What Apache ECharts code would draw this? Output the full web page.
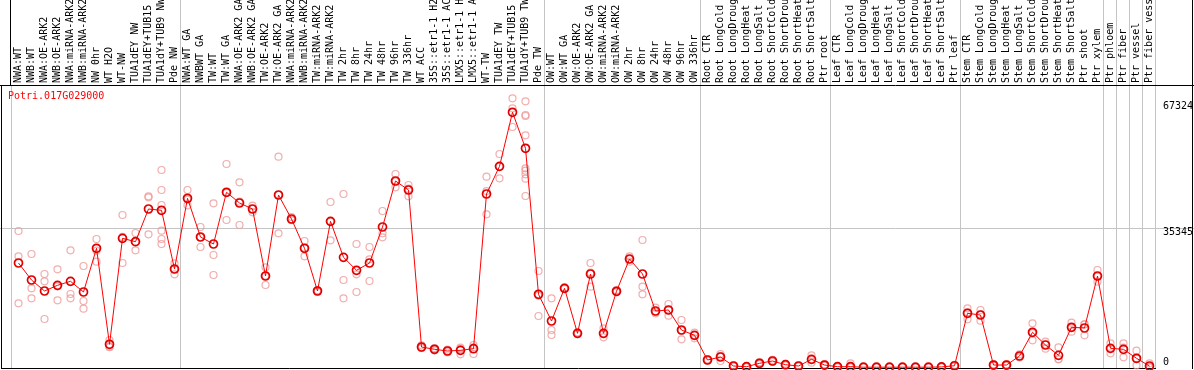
<!DOCTYPE html>
<html>
<head>
<meta charset="utf-8">
<script src="https://cdn.jsdelivr.net/npm/echarts@6/dist/echarts.min.js"></script>
<style>
html,body{margin:0;padding:0;background:#fff;}
#chart{width:1194px;height:370px;}
</style>
</head>
<body>
<div id="chart"></div>
<script>
const geneTitle = 'Potri.017G029000';

const categories = [
  'NWA:WT','NWB:WT','NWA:OE-ARK2','NWB:OE-ARK2','NWA:miRNA-ARK2','NWB:miRNA-ARK2','NW 0hr','WT H2O','WT-NW','TUA1dEY NW','TUA1dEY+TUB15 NW','TUA1dY+TUB9 NW','Pde NW',
  'NWA:WT GA','NWBWT GA','TW:WT','TW:WT GA','NWA:OE-ARK2 GA','NWB:OE-ARK2 GA','TW:OE-ARK2','TW:OE-ARK2 GA','NWA:miRNA-ARK2 GA','NWB:miRNA-ARK2 GA','TW:miRNA-ARK2','TW:miRNA-ARK2 GA',
  'TW 2hr','TW 8hr','TW 24hr','TW 48hr','TW 96hr','TW 336hr','WT ACC','35S::etr1-1 H2O','35S::etr1-1 ACC','LMX5::etr1-1 H2O','LMX5::etr1-1 ACC','WT-TW','TUA1dEY TW','TUA1dEY+TUB15 TW','TUA1dY+TUB9 TW','Pde TW',
  'OW:WT','OW:WT GA','OW:OE-ARK2','OW:OE-ARK2 GA','OW:miRNA-ARK2','OW:miRNA-ARK2 GA','OW 2hr','OW 8hr','OW 24hr','OW 48hr','OW 96hr','OW 336hr',
  'Root CTR','Root LongCold','Root LongDrought','Root LongHeat','Root LongSalt','Root ShortCold','Root ShortDrought','Root ShortHeat','Root ShortSalt','Ptr root',
  'Leaf CTR','Leaf LongCold','Leaf LongDrought','Leaf LongHeat','Leaf LongSalt','Leaf ShortCold','Leaf ShortDrought','Leaf ShortHeat','Leaf ShortSalt','Ptr leaf',
  'Stem CTR','Stem LongCold','Stem LongDrought','Stem LongHeat','Stem LongSalt','Stem ShortCold','Stem ShortDrought','Stem ShortHeat','Stem ShortSalt','Ptr shoot',
  'Ptr xylem','Ptr phloem','Ptr fiber','Ptr vessel','Ptr fiber vessel'
];

const means = [
  26510, 22190, 19400, 20840, 21860, 19140, 30250, 5850, 32790, 31930, 40240, 39910, 24990,
  42960, 33120, 31340, 44490, 41770, 40240, 23210, 43800, 37700, 30250, 19400, 37110,
  27960, 24660, 26510, 35660, 47360, 45070, 5160, 4580, 4140, 4320, 4730, 44050, 51090, 64820, 55670, 18560,
  11770, 20080, 8640, 23720, 8640, 19320, 27530, 23720, 14310, 14570, 9480, 8130,
  1860, 2620, 330, 150, 1020, 1600, 660, 330, 2030, 580,
  150, 150, 30, 30, 30, 30, 30, 30, 100, 400,
  13730, 13290, 580, 580, 2870, 8900, 5670, 3050, 10170, 9990,
  23210, 4830, 4570, 2290, 330
];

const replicates = [
  [34650, 28210, 16270], [28800, 20080, 17540], [23720, 21860, 12280], [24910, 17030, 20580],
  [29740, 18630, 17540], [25750, 16850, 14900], [32610, 29640, 26840], [6940, 5240, 5100],
  [38710, 26510, 33150], [34140, 29740, 31900], [43470, 43210, 33810],
  [50150, 45070, 41260, 34720, 32610, 31340], [26440, 23640, 24900],
  [45070, 41180, 42600], [35660, 30580, 33100], [41690, 28550, 23460], [51680, 37440, 44350],
  [47030, 36170, 42100], [41080, 39400, 40240], [25420, 20920, 23300], [53540, 34060, 43800],
  [38200, 37500, 37400], [32100, 28210, 30400], [19400, 19200, 19600], [42020, 32280, 37000],
  [44050, 22190, 17540], [31340, 23640, 19140], [30580, 27450, 21940], [39730, 34060, 33050],
  [49140, 45760, 47200], [46340, 43470, 45400], [5600, 4900, 5000], [4900, 4300, 4600],
  [4500, 3800, 4100], [4980, 3300, 4600], [5670, 3380, 5100], [48450, 38890, 44800],
  [54220, 48040, 51000], [68380, 65840, 61080],
  [67620, 64130, 63880, 58970, 50590, 49980, 49060, 47940, 43540], [24480, 13040, 18200],
  [17540, 9480, 8210], [20300, 19900, 20000], [8900, 8400, 8600], [26510, 20490, 24100],
  [9910, 7630, 8400], [19600, 19100, 19300], [26840, 28200, 27500], [32360, 20490, 18560],
  [15150, 13730, 14100], [16090, 13120, 14500], [12020, 7120, 9300], [8800, 7370, 8200],
  [2100, 1700, 1800], [3380, 1600, 2900], [500, 200, 300], [300, 100, 50], [1300, 800, 1000],
  [1900, 1400, 1500], [900, 500, 600], [500, 200, 300], [3050, 1170, 1900], [800, 400, 500],
  [300, 100, 50], [1000, 100, 0], [50, 20, 20], [50, 20, 20], [50, 20, 20], [50, 20, 20],
  [50, 20, 20], [50, 20, 20], [200, 50, 50], [600, 300, 300],
  [15000, 12200, 14000], [14570, 11850, 13450], [800, 400, 500], [800, 400, 500],
  [3300, 2500, 2800], [11180, 6860, 8700], [6510, 4730, 5800], [5080, 2030, 2100],
  [11340, 9050, 10100], [10930, 8130, 10900],
  [24730, 21760, 23100], [6100, 3560, 4830], [6100, 2540, 5000], [4220, 510, 2200], [1000, 100, 0]
];

const yTickLabels = [0, 35345, 67324];
const yGridValue = 35345;
const yMin = -430;
const yMax = 71760;
const groupBoundaries = [0, 13, 41, 53, 63, 73, 84, 85, 86, 87, 88];

const monoFont = '"DejaVu Sans Mono", "Liberation Mono", monospace';

const repPoints = [];
replicates.forEach((arr, i) => arr.forEach(v => repPoints.push([i, v])));

const chart = echarts.init(document.getElementById('chart'));
const option = {
  animation: false,
  backgroundColor: '#ffffff',
  title: {
    text: geneTitle,
    left: 8,
    top: 91,
    padding: 0,
    textStyle: { color: '#ff0000', fontFamily: monoFont, fontSize: 10, fontWeight: 'normal' }
  },
  grid: { left: 12, right: 38, top: 85, bottom: 1, containLabel: false, outerBoundsMode: 'none' },
  xAxis: {
    type: 'category',
    position: 'top',
    data: categories,
    boundaryGap: true,
    axisLine: { show: false },
    axisTick: { show: false },
    splitLine: { show: false },
    axisLabel: {
      interval: 0,
      rotate: 90,
      margin: 2,
      hideOverlap: false,
      color: '#000',
      fontFamily: monoFont,
      fontSize: 10
    }
  },
  yAxis: {
    type: 'value',
    position: 'right',
    min: yMin,
    max: yMax,
    axisLine: { show: false },
    axisTick: { show: false },
    splitLine: { show: false },
    axisLabel: {
      customValues: yTickLabels,
      margin: 7,
      color: '#000',
      fontFamily: monoFont,
      fontSize: 10,
      formatter: v => (v === 0 ? '{b|0}' : '{t|' + v + '}'),
      rich: {
        t: { padding: [8, 0, 0, 0], fontFamily: monoFont, fontSize: 10, color: '#000' },
        b: { padding: [0, 0, 10, 0], fontFamily: monoFont, fontSize: 10, color: '#000' }
      }
    }
  },
  series: [
    {
      type: 'scatter',
      name: 'replicates',
      data: repPoints,
      symbol: 'circle',
      symbolSize: 7,
      itemStyle: { color: 'rgba(0,0,0,0)', borderColor: '#ee9a9a', borderWidth: 1.2 },
      z: 3
    },
    {
      type: 'line',
      name: 'mean',
      data: means,
      symbol: 'circle',
      symbolSize: 8,
      showAllSymbol: true,
      lineStyle: { color: '#ff0000', width: 1 },
      itemStyle: { color: 'rgba(0,0,0,0)', borderColor: '#e00000', borderWidth: 1.7 },
      z: 4
    }
  ]
};
chart.setOption(option);

// gridlines and frame built from the axes' own scales
const c0 = chart.convertToPixel({ xAxisIndex: 0 }, 0);
const c1 = chart.convertToPixel({ xAxisIndex: 0 }, 1);
const band = c1 - c0;
const boundaryX = k => (k < categories.length
  ? chart.convertToPixel({ xAxisIndex: 0 }, k) - band / 2
  : chart.convertToPixel({ xAxisIndex: 0 }, categories.length - 1) + band / 2);
const yGrid = chart.convertToPixel({ yAxisIndex: 0 }, yGridValue);
const gridTop = 85, gridBottom = 369;
const gray = '#c4c4c4';
const elements = [];
const line = (x1, y1, x2, y2, color, z) => elements.push({
  type: 'line', z: z, silent: true,
  shape: { x1, y1, x2, y2 },
  style: { stroke: color, lineWidth: 1 }
});
groupBoundaries.forEach((k, idx) => {
  const x = Math.round(boundaryX(k)) - 0.5;
  line(x, idx === 0 ? gridTop : 0, x, gridBottom, gray, 0);
});
line(0, Math.round(yGrid) + 0.5, 1194, Math.round(yGrid) + 0.5, gray, 0);
// black frame
line(0, 85.5, 1194, 85.5, '#000', 1);
line(1.5, 85, 1.5, 369, '#000', 1);
line(1, 368.5, Math.round(boundaryX(categories.length)), 368.5, '#000', 1);
line(1192.5, 0, 1192.5, 369, '#000', 1);
line(Math.round(boundaryX(0)) - 1.5, 0, Math.round(boundaryX(0)) - 1.5, 85, '#000', 1);
chart.setOption({ graphic: { elements: elements } });
</script>
</body>
</html>
